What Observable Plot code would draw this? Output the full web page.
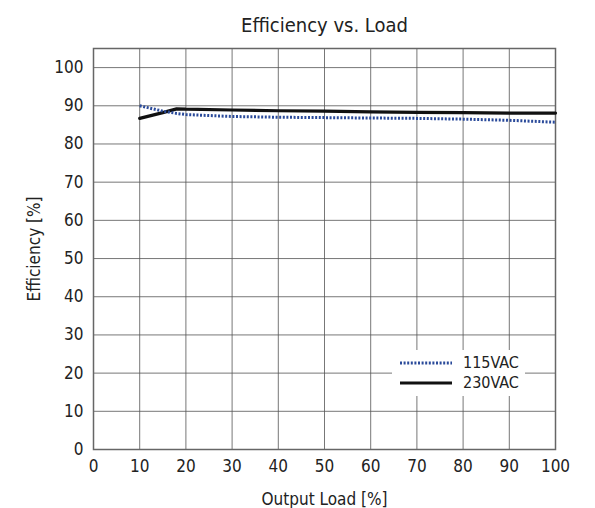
<!DOCTYPE html>
<html>
<head>
<meta charset="utf-8">
<script src="https://cdn.jsdelivr.net/npm/d3@7"></script>
<script src="https://cdn.jsdelivr.net/npm/@observablehq/plot@0.6"></script>
<style>
  body { margin: 0; background: #fff; }
  #chart { position: relative; width: 595px; height: 508px; font-family: "Liberation Sans Narrow", "DejaVu Sans Condensed", sans-serif; }
  #legend { position: absolute; left: 392px; top: 350px; font-size: 16px; color: #222; background: #fff; padding: 3px 6px 3px 8px; line-height: 20px; }
  #legend div { display: flex; align-items: center; gap: 11px; }
</style>
</head>
<body>
<div id="chart"></div>
<script>
// valeurs
const load = [10, 15, 18, 20, 30, 40, 50, 60, 70, 80, 90, 100]
const eff115 = [90.0, 88.6, 88.0, 87.7, 87.2, 87.0, 86.9, 86.8, 86.7, 86.5, 86.2, 85.7]
const eff230 = [86.7, 88.2, 89.2, 89.1, 88.9, 88.7, 88.6, 88.4, 88.3, 88.2, 88.1, 88.1]
const series = ["115VAC", "230VAC"]
const xTicks = d3.range(0, 101, 10)
const yTicks = d3.range(0, 101, 10)

let rows = []
load.forEach((l, i) => {
  rows.push({load: l, eff: eff115[i], s: series[0]})
  rows.push({load: l, eff: eff230[i], s: series[1]})
})

let chart = Plot.plot({
  width: 595,
  height: 508,
  marginLeft: 93,
  marginRight: 40,
  marginTop: 48,
  marginBottom: 59,
  style: {fontFamily: "Liberation Sans Narrow, DejaVu Sans Condensed, sans-serif", fontSize: "16px", color: "#222"},
  x: {domain: [0, 100]},
  y: {domain: [0, 105]},
  marks: [
    Plot.gridX(xTicks, {stroke: "#555", strokeOpacity: 0.8, strokeWidth: 1}),
    Plot.gridY(yTicks, {stroke: "#555", strokeOpacity: 0.8, strokeWidth: 1}),
    Plot.frame({stroke: "#666", strokeWidth: 1.5}),
    Plot.axisX({ticks: xTicks, tickSize: 0, tickPadding: 10, fontSize: 17, label: "Output Load [%]", labelAnchor: "center", labelOffset: 55, labelArrow: "none"}),
    Plot.axisY({ticks: yTicks, tickSize: 0, tickPadding: 10, fontSize: 17, label: "Efficiency [%]", labelAnchor: "center", labelOffset: 66, labelArrow: "none"}),
    Plot.line(rows.filter(d => d.s == "230VAC"), {x: "load", y: "eff", stroke: "#111", strokeWidth: 3.2}),
    Plot.line(rows.filter(d => d.s == "115VAC"), {x: "load", y: "eff", stroke: "#2a4a9a", strokeWidth: 3, strokeDasharray: "2,1.6", strokeLinecap: "butt", strokeLinejoin: "miter"}),
    Plot.text(["Efficiency vs. Load"], {frameAnchor: "top", dy: -31, fontSize: 20, fill: "#222"})
  ]
})

d3.select("#chart").append(() => chart)

// légende
let legend = d3.select("#chart").append("div").attr("id", "legend")
let styles = [{stroke: "#2a4a9a", dash: "2,1.6", w: 3}, {stroke: "#111", dash: null, w: 3.2}]
series.forEach((s, i) => {
  let row = legend.append("div")
  let svg = row.append("svg").attr("width", 52).attr("height", 10)
  svg.append("line").attr("x1", 0).attr("x2", 52).attr("y1", 5).attr("y2", 5)
    .attr("stroke", styles[i].stroke).attr("stroke-width", styles[i].w)
    .attr("stroke-dasharray", styles[i].dash)
  row.append("span").text(s)
})
</script>
</body>
</html>
